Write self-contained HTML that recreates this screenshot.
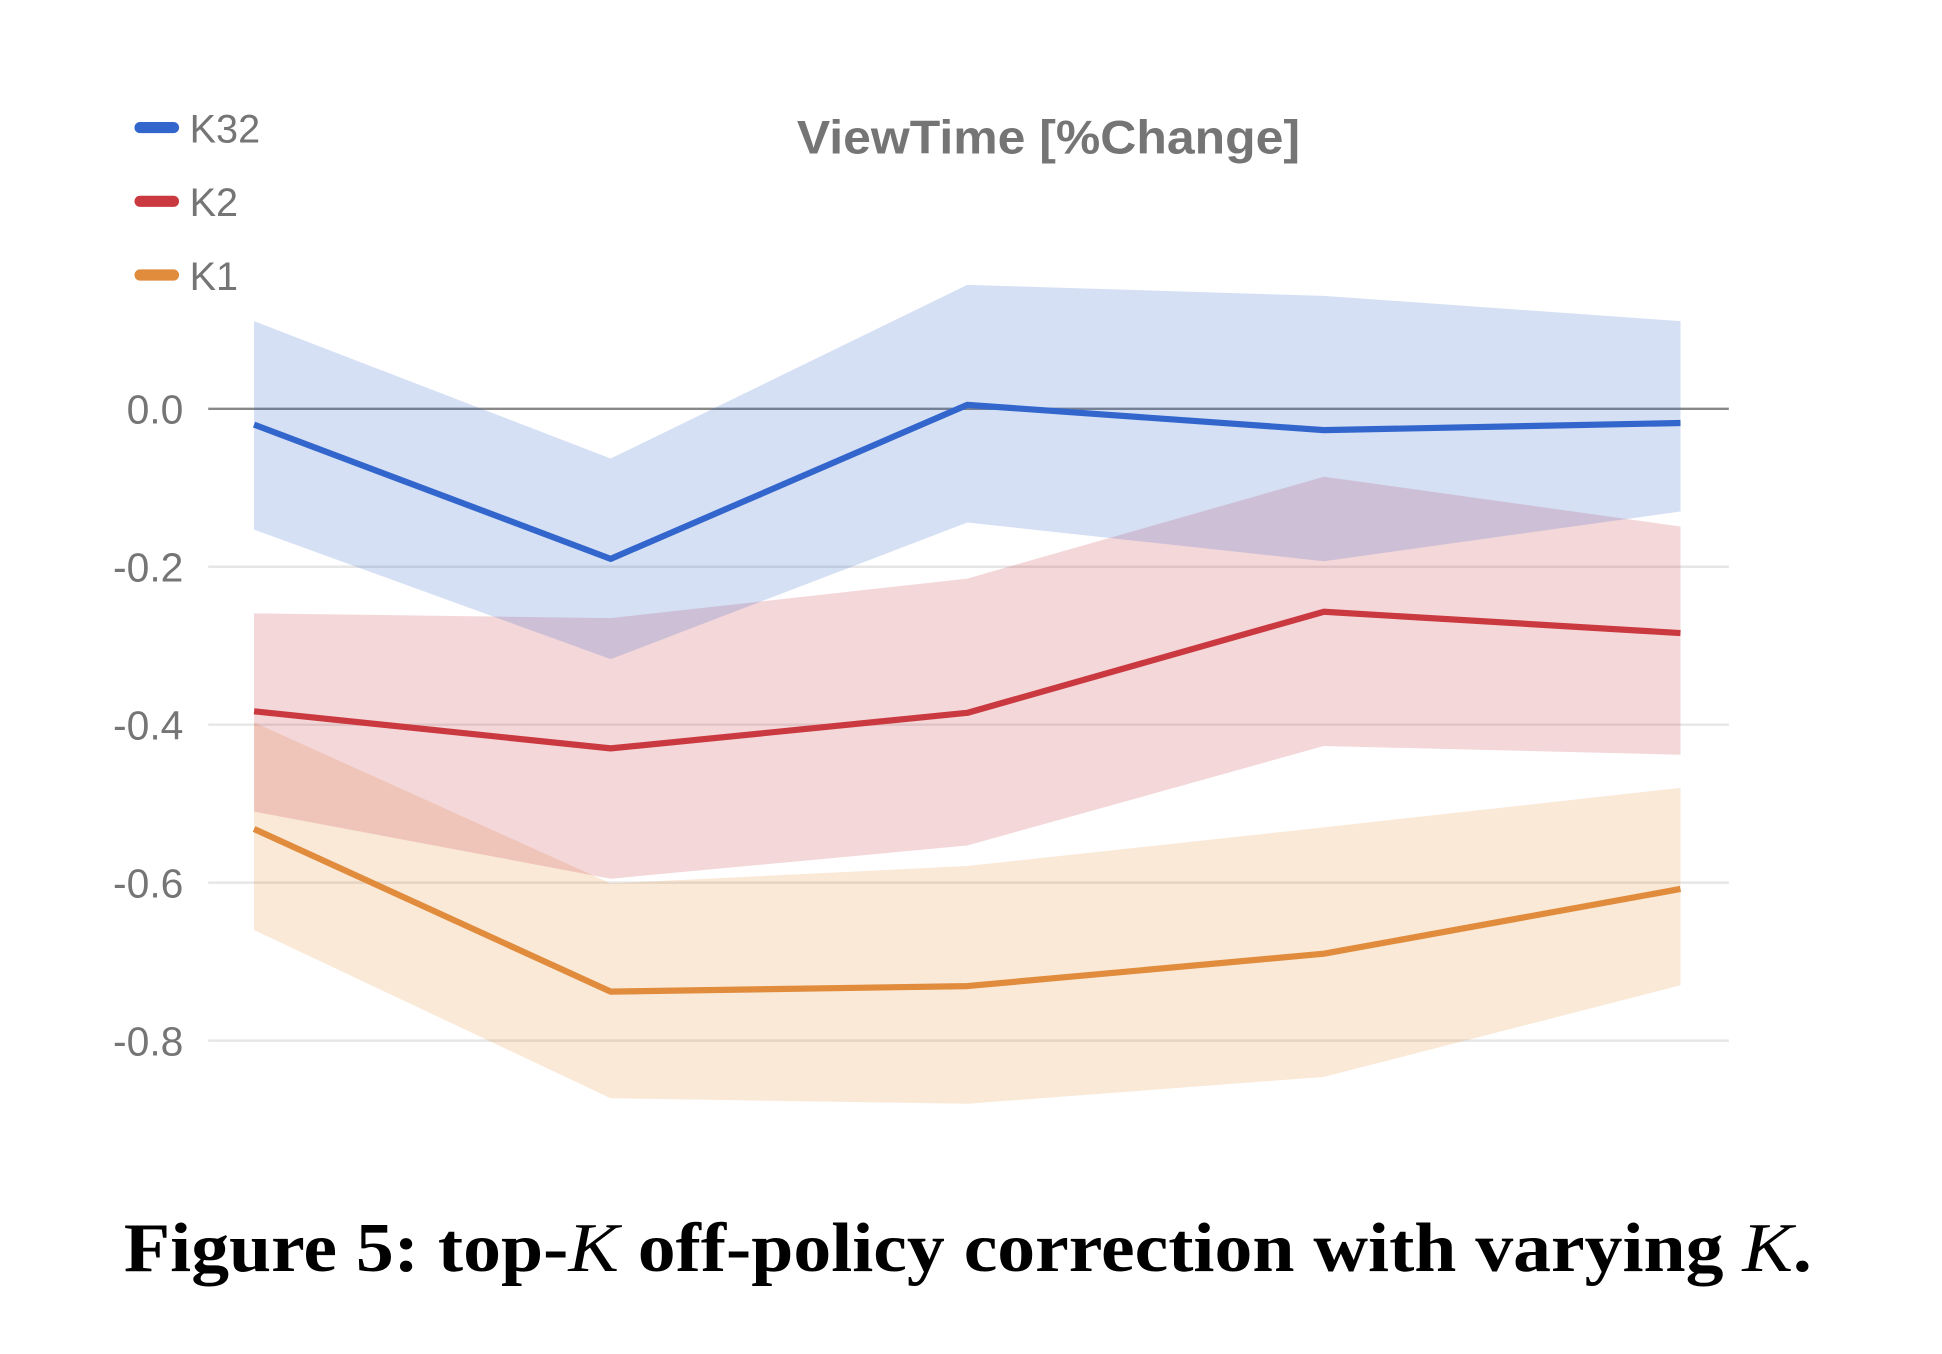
<!DOCTYPE html>
<html><head><meta charset="utf-8"><style>
html,body{margin:0;padding:0;background:#fff;}
svg{display:block;}
</style></head><body>
<svg width="1942" height="1354" viewBox="0 0 1567 1093" preserveAspectRatio="none" xmlns="http://www.w3.org/2000/svg">
<g id="grid"></g>
<g id="bands"></g>
<g id="lines"></g>
<text x="643" y="124" textLength="406" lengthAdjust="spacingAndGlyphs" font-family="Liberation Sans, sans-serif" font-weight="bold" font-size="38" fill="#757575">ViewTime [%Change]</text>
<g id="legend"></g>
<text x="100" y="1026" textLength="1362" lengthAdjust="spacingAndGlyphs" font-family="Liberation Serif, serif" font-weight="bold" font-size="56" fill="#000">Figure 5: top-<tspan font-style="italic" font-weight="normal">K</tspan> off-policy correction with varying <tspan font-style="italic" font-weight="normal">K</tspan>.</text>
</svg>
<script>
const categories = [1, 2, 3, 4, 5];
const yTicks = [0.0, -0.2, -0.4, -0.6, -0.8];
const seriesNames = ["K32", "K2", "K1"];
const k32Mean = [-0.02, -0.19, 0.005, -0.027, -0.018];
const k32Upper = [0.111, -0.063, 0.157, 0.143, 0.111];
const k32Lower = [-0.153, -0.317, -0.144, -0.193, -0.13];
const k2Mean = [-0.383, -0.43, -0.385, -0.257, -0.284];
const k2Upper = [-0.259, -0.265, -0.215, -0.086, -0.149];
const k2Lower = [-0.51, -0.595, -0.553, -0.427, -0.438];
const k1Mean = [-0.532, -0.738, -0.731, -0.69, -0.608];
const k1Upper = [-0.397, -0.601, -0.579, -0.53, -0.48];
const k1Lower = [-0.66, -0.873, -0.88, -0.846, -0.73];

const NS = "http://www.w3.org/2000/svg";
const colors = ["#3366cc", "#c9393f", "#e08c3c"];
const fills = ["rgba(51,102,204,0.2)", "rgba(201,57,63,0.2)", "rgba(230,145,56,0.2)"];
function xS(i){ return 205 + (i) * (1356 - 205) / (categories.length - 1); }
function yS(v){ return 330 - v * 637.5; }
function mk(tag, attrs, parent){ const e = document.createElementNS(NS, tag); for (const k in attrs) e.setAttribute(k, attrs[k]); parent.appendChild(e); return e; }

const grid = document.getElementById("grid");
yTicks.forEach((t) => {
  const l = mk("line", {x1:168, x2:1395, y1:yS(t), y2:yS(t), stroke: t===0 ? "#888" : "#e6e6e6", "stroke-width": 2}, grid);
  
  
  const tx = mk("text", {x:148, y:yS(t)+12, "text-anchor":"end", "font-family":"Liberation Sans, sans-serif", "font-size":33, fill:"#757575"}, grid);
  tx.textContent = t.toFixed(1);
  
  
});

const bandData = [[k32Upper, k32Lower], [k2Upper, k2Lower], [k1Upper, k1Lower]];
const meanData = [k32Mean, k2Mean, k1Mean];
const bands = document.getElementById("bands");
const linesG = document.getElementById("lines");
[2,1,0].forEach((s) => {
  const up = bandData[s][0], lo = bandData[s][1];
  let pts = up.map((v,i)=>xS(i)+","+yS(v));
  for (let i = lo.length-1; i >= 0; i--) pts.push(xS(i)+","+yS(lo[i]));
  const p = mk("polygon", {points: pts.join(" "), fill: fills[s]}, bands);
  
  
});
[2,1,0].forEach((s) => {
  const pts = meanData[s].map((v,i)=>xS(i)+","+yS(v)).join(" ");
  const l = mk("polyline", {points: pts, fill:"none", stroke: colors[s], "stroke-width":5, "stroke-linejoin":"round"}, linesG);
  
  
});

const legend = document.getElementById("legend");
seriesNames.forEach((n, i) => {
  const y = 103 + i * 59.5;
  const g = mk("g", {}, legend);
  
  
  mk("line", {x1:113, x2:140, y1:y, y2:y, stroke: colors[i], "stroke-width":9, "stroke-linecap":"round"}, g);
  const t = mk("text", {x:153, y:y+12, "font-family":"Liberation Sans, sans-serif", "font-size":32, fill:"#757575"}, g);
  t.textContent = n;
});
</script>
</body></html>
